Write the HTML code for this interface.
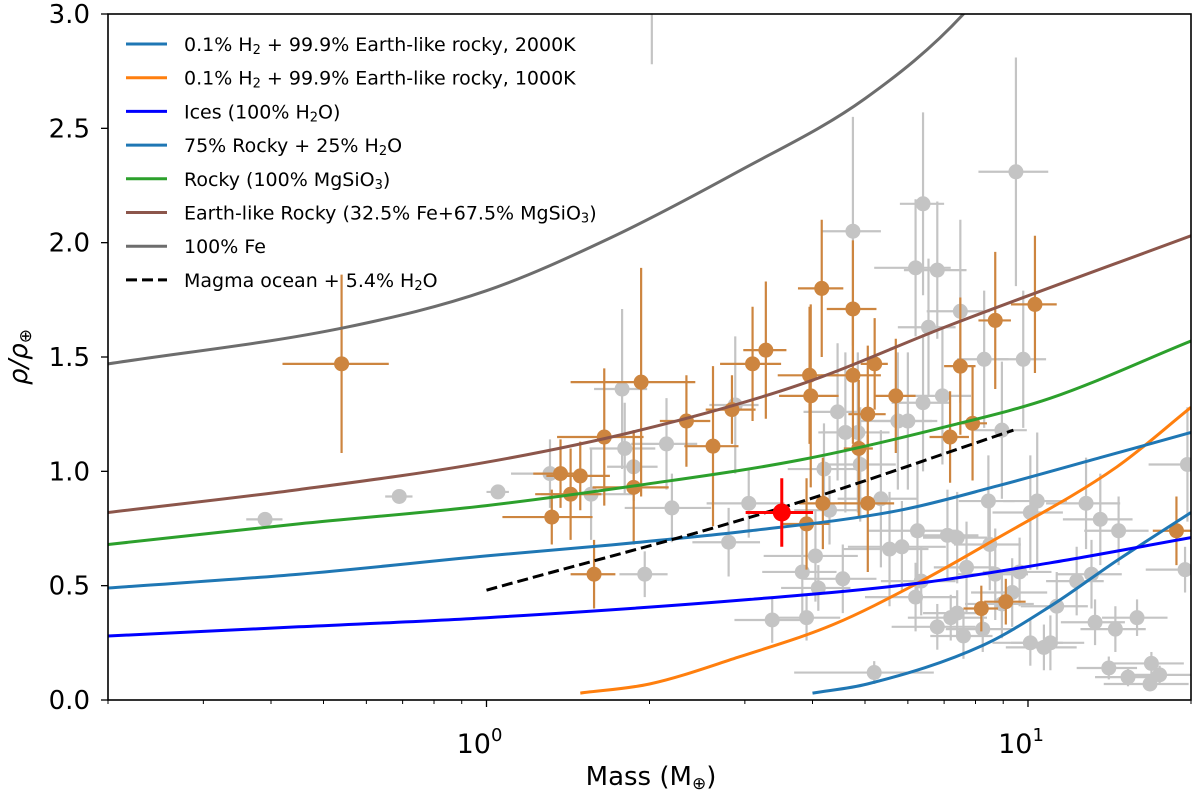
<!DOCTYPE html>
<html><head><meta charset="utf-8"><style>
body{margin:0;background:#fff}
svg{display:block;font-family:"DejaVu Sans","Liberation Sans",sans-serif}
</style></head><body>
<svg id="chart" width="1200" height="795" viewBox="0 0 1200 795"></svg>
<script>
// ---- data ----
const orangeMass=[0.54,1.32,1.37,1.43,1.49,1.58,1.65,1.93,1.87,2.34,2.62,2.84,3.10,3.28,4.16,4.75,3.95,3.97,4.75,5.21,5.06,4.87,4.18,3.90,5.06,5.7,7.18,7.9,7.5,8.7,10.3,8.2,9.1,18.8];
const orangeRho=[1.47,0.80,0.99,0.90,0.98,0.55,1.15,1.39,0.93,1.22,1.11,1.27,1.47,1.53,1.80,1.71,1.42,1.33,1.42,1.47,1.25,1.10,0.86,0.77,0.86,1.33,1.15,1.21,1.46,1.66,1.73,0.40,0.43,0.74];
const orangeXerr=[0.12,0.25,0.15,0.2,0.2,0.15,0.3,0.5,0.3,0.25,0.3,0.3,0.4,0.3,0.4,0.5,0.5,0.5,0.6,0.3,0.4,0.3,0.4,0.4,0.6,0.5,0.6,0.5,0.5,0.6,1.0,0.6,0.8,1.8];
const orangeYerr=[0.39,0.12,0.15,0.2,0.15,0.15,0.3,0.5,0.25,0.2,0.35,0.15,0.25,0.3,0.3,0.3,0.3,0.4,0.3,0.2,0.3,0.3,0.2,0.2,0.3,0.25,0.2,0.25,0.3,0.3,0.3,0.1,0.1,0.15];
const grayMass=[0.39,0.69,1.05,1.31,1.78,1.80,1.87,1.56,2.15,2.20,1.96,2.88,2.80,3.05,4.45,4.6,4.85,4.2,4.9,4.75,6.4,6.2,6.8,6.55,7.5,9.5,9.8,8.3,6.95,6.0,8.95,5.75,6.4,5.35,4.3,8.45,10.4,12.8,10.1,13.6,14.7,19.7,19.5,6.25,7.1,7.4,5.55,5.85,4.05,3.83,4.1,4.55,6.35,6.2,7.7,8.5,8.7,9.65,9.35,12.3,13.1,11.3,3.37,3.9,6.8,7.2,7.4,7.6,8.25,8.95,10.1,10.7,11.0,13.3,14.5,15.9,5.2,14.1,15.3,16.9,17.5,16.8,2.02];
const grayRho=[0.79,0.89,0.91,0.99,1.36,1.10,1.02,0.90,1.12,0.84,0.55,1.29,0.69,0.86,1.26,1.17,1.17,1.01,1.03,2.05,2.17,1.89,1.88,1.63,1.70,2.31,1.49,1.49,1.33,1.22,1.18,1.22,1.30,0.88,0.83,0.87,0.87,0.86,0.82,0.79,0.74,1.03,0.57,0.74,0.72,0.71,0.66,0.67,0.63,0.56,0.49,0.53,0.52,0.45,0.58,0.68,0.55,0.56,0.47,0.52,0.55,0.41,0.35,0.36,0.32,0.36,0.38,0.28,0.31,0.42,0.25,0.23,0.25,0.34,0.31,0.36,0.12,0.14,0.10,0.16,0.11,0.07,3.4];
const grayXerr=[0.03,0.04,0.05,0.2,0.2,0.25,0.2,0.3,0.3,0.4,0.2,0.3,0.4,0.5,0.6,0.5,0.7,0.6,0.8,0.6,0.6,1.0,0.9,0.8,1.0,1.4,1.0,0.9,0.9,0.8,1.0,0.9,0.8,0.9,0.6,1.0,1.4,2.0,1.5,2.0,2.0,3,3,1.2,1.0,1.0,1.0,1.2,0.8,0.6,0.6,0.7,1.0,1.2,1.0,1.2,1.3,1.4,1.5,1.5,1.8,1.6,0.5,0.6,1.2,1.2,1.0,1.0,1.2,1.3,1.5,1.6,1.7,1.8,2.0,2.2,1.5,1.8,2,2.5,2.5,3,0.3];
const grayYerr=[0.02,0.03,0.03,0.15,0.35,0.2,0.15,0.2,0.2,0.15,0.1,0.3,0.15,0.15,0.3,0.35,0.35,0.2,0.25,0.5,0.4,0.3,0.3,0.3,0.4,0.5,0.3,0.3,0.3,0.3,0.3,0.3,0.3,0.3,0.15,0.2,0.3,0.2,0.25,0.2,0.15,0.25,0.1,0.3,0.2,0.2,0.25,0.2,0.2,0.2,0.1,0.15,0.15,0.15,0.2,0.2,0.2,0.15,0.15,0.15,0.15,0.15,0.1,0.1,0.1,0.1,0.1,0.1,0.1,0.15,0.1,0.1,0.12,0.1,0.1,0.08,0.05,0.05,0.04,0.05,0.04,0.03,0.62];
const redMass=[3.51], redRho=[0.82], redXerr=[0.5], redYerr=[0.15];
const curveH2000=[[4.0,0.03],[5.05,0.07],[8.27,0.24],[11.0,0.41],[14.6,0.61],[20,0.82]];
const curveH1000=[[1.49,0.03],[2.0,0.07],[2.94,0.19],[4.37,0.33],[6.24,0.51],[8.52,0.69],[14.6,1.02],[20,1.28]];
const curveIces=[[0.2,0.28],[0.45,0.32],[1,0.36],[3.07,0.44],[6.24,0.51],[11,0.60],[20,0.71]];
const curveRock75=[[0.2,0.49],[0.45,0.55],[1,0.63],[1.92,0.69],[3.07,0.74],[5.81,0.83],[8.9,0.94],[13.6,1.06],[20,1.17]];
const curveRocky=[[0.2,0.68],[0.45,0.77],[1,0.85],[1.92,0.94],[3.8,1.05],[7.19,1.20],[11,1.32],[20,1.57]];
const curveEarth=[[0.2,0.82],[0.45,0.92],[1,1.04],[1.92,1.18],[3.8,1.38],[7.19,1.64],[20,2.03]];
const curveFe=[[0.2,1.47],[0.55,1.63],[1,1.79],[1.69,2.02],[2.91,2.31],[5.0,2.63],[7.6,3.0],[8.5,3.15]];
const curveMagma=[[1,0.48],[3.5,0.84],[9.4,1.18]];
const yTicks=[0,0.5,1.0,1.5,2.0,2.5,3.0];
const yTickLabels=["0.0","0.5","1.0","1.5","2.0","2.5","3.0"];
const legendLabels=["0.1% H<tspan baseline-shift='-25%' font-size='13'>2</tspan> + 99.9% Earth-like rocky, 2000K","0.1% H<tspan baseline-shift='-25%' font-size='13'>2</tspan> + 99.9% Earth-like rocky, 1000K","Ices (100% H<tspan baseline-shift='-25%' font-size='13'>2</tspan>O)","75% Rocky + 25% H<tspan baseline-shift='-25%' font-size='13'>2</tspan>O","Rocky (100% MgSiO<tspan baseline-shift='-25%' font-size='13'>3</tspan>)","Earth-like Rocky (32.5% Fe+67.5% MgSiO<tspan baseline-shift='-25%' font-size='13'>3</tspan>)","100% Fe","Magma ocean + 5.4% H<tspan baseline-shift='-25%' font-size='13'>2</tspan>O"];

// ---- axes ----
const L=108,R=1191,T=14,B=700;
const xMin=0.2,xMax=20,yMin=0,yMax=3;
function X(m){return L+(Math.log10(m)-Math.log10(xMin))/(Math.log10(xMax)-Math.log10(xMin))*(R-L);}
function Y(r){return B-(r-yMin)/(yMax-yMin)*(B-T);}
const svg=document.getElementById('chart');
const NS='http://www.w3.org/2000/svg';
function mk(tag,attrs,parent){const e=document.createElementNS(NS,tag);for(const k in attrs)e.setAttribute(k,attrs[k]);(parent||svg).appendChild(e);return e;}

const defs=mk('defs',{});
const cp=mk('clipPath',{id:'plotclip'},defs);
mk('rect',{x:L,y:T,width:R-L,height:B-T},cp);
const plot=mk('g',{'clip-path':'url(#plotclip)'});



function points(ms,rs,xe,ye,color,r,w,name){
  const g=mk('g',{},plot);
  
  
  for(let i=0;i<ms.length;i++){
    const pg=mk('g',{},g);
    
    
    mk('line',{x1:X(Math.max(ms[i]-xe[i],0.01)),x2:X(ms[i]+xe[i]),y1:Y(rs[i]),y2:Y(rs[i]),stroke:color,'stroke-width':w},pg);
    mk('line',{x1:X(ms[i]),x2:X(ms[i]),y1:Y(rs[i]-ye[i]),y2:Y(rs[i]+ye[i]),stroke:color,'stroke-width':w},pg);
    mk('circle',{cx:X(ms[i]),cy:Y(rs[i]),r:r,fill:color},pg);
  }
}
points(grayMass,grayRho,grayXerr,grayYerr,'#c4c4c4',7.5,2.2,'gray-planet');
points(orangeMass,orangeRho,orangeXerr,orangeYerr,'#cd853f',7.5,2.2,'orange-planet');

// monotone cubic (Fritsch-Carlson) in pixel space
function smoothPath(pts){
  const P=pts.map(p=>[X(p[0]),Y(p[1])]);const n=P.length;
  const dx=[],s=[];
  for(let i=0;i<n-1;i++){dx.push(P[i+1][0]-P[i][0]);s.push((P[i+1][1]-P[i][1])/dx[i]);}
  const m=[s[0]];
  for(let i=1;i<n-1;i++){m.push(s[i-1]*s[i]<=0?0:(s[i-1]+s[i])/2);}
  m.push(s[n-2]);
  for(let i=0;i<n-1;i++){
    if(s[i]===0){m[i]=0;m[i+1]=0;continue;}
    const a=m[i]/s[i],b=m[i+1]/s[i],h=a*a+b*b;
    if(h>9){const t=3/Math.sqrt(h);m[i]=t*a*s[i];m[i+1]=t*b*s[i];}
  }
  let d='M'+P[0][0].toFixed(1)+','+P[0][1].toFixed(1);
  for(let i=0;i<n-1;i++){
    const h=dx[i]/3;
    d+=' C'+(P[i][0]+h).toFixed(1)+','+(P[i][1]+m[i]*h).toFixed(1)+' '+(P[i+1][0]-h).toFixed(1)+','+(P[i+1][1]-m[i+1]*h).toFixed(1)+' '+P[i+1][0].toFixed(1)+','+P[i+1][1].toFixed(1);
  }
  return d;
}
const curves=[[curveH2000,'#1f77b4','h2-2000k-curve'],[curveH1000,'#ff7f0e','h2-1000k-curve'],[curveIces,'#0000ff','ices-curve'],[curveRock75,'#1f77b4','rock75-curve'],[curveRocky,'#2ca02c','rocky-curve'],[curveEarth,'#8c564b','earth-like-curve'],[curveFe,'#6d6d6d','iron-curve'],[curveMagma,'#000','magma-ocean-curve']];
curves.forEach(([pts,c,n])=>{
  const p=mk('path',{d:smoothPath(pts),fill:'none',stroke:c,'stroke-width':3,'stroke-linejoin':'round'},plot);
  if(n==='magma-ocean-curve'){p.setAttribute('stroke-dasharray','11,5');}
  
  
});
points(redMass,redRho,redXerr,redYerr,'#ff0000',9,3,'red-planet');

const sp=mk('rect',{x:L,y:T,width:R-L,height:B-T,fill:'none',stroke:'#000','stroke-width':1.6});



yTicks.forEach((v,i)=>{
  mk('line',{x1:L-7,x2:L,y1:Y(v),y2:Y(v),stroke:'#000','stroke-width':1.3});
  const t=mk('text',{x:L-18,y:Y(v)+9,'text-anchor':'end','font-size':26,fill:'#000'});
  t.textContent=yTickLabels[i];
  
  
});
[1,10].forEach((v,i)=>{
  mk('line',{x1:X(v),x2:X(v),y1:B,y2:B+7,stroke:'#000','stroke-width':1.3});
  const t=mk('text',{x:X(v)-7,y:B+53,'text-anchor':'middle','font-size':27,fill:'#000'});
  t.innerHTML='10<tspan dy="-12" font-size="18">'+i+'</tspan>';
  
  
});
[0.2,0.3,0.4,0.5,0.6,0.7,0.8,0.9,2,3,4,5,6,7,8,9,20].forEach(v=>{
  mk('line',{x1:X(v),x2:X(v),y1:B,y2:B+4,stroke:'#000','stroke-width':1});
});

const xl=mk('text',{x:651,y:785,'text-anchor':'middle','font-size':26,fill:'#000'});
xl.innerHTML='Mass (M<tspan baseline-shift="-25%" font-size="17">⊕</tspan>)';


const yl=mk('text',{x:0,y:0,'text-anchor':'middle','font-size':26,fill:'#000',transform:'translate(27,357) rotate(-90)','font-style':'italic'});
yl.innerHTML='ρ/ρ<tspan baseline-shift="-25%" font-size="17" font-style="normal">⊕</tspan>';



const lg=mk('g',{});


curves.forEach(([pts,c,n],i)=>{
  const y=44+i*33.7;
  const e=mk('g',{},lg);
  
  
  const ln=mk('line',{x1:126,x2:167,y1:y,y2:y,stroke:c,'stroke-width':3},e);
  if(n==='magma-ocean-curve')ln.setAttribute('stroke-dasharray','11,5');
  const t=mk('text',{x:184,y:y+7,'font-size':19,fill:'#000'},e);
  t.innerHTML=legendLabels[i];
});
</script>
</body></html>
